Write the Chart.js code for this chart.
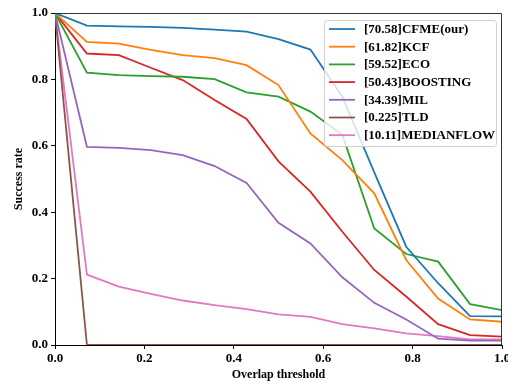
<!DOCTYPE html>
<html>
<head>
<meta charset="utf-8">
<script src="https://cdn.jsdelivr.net/npm/chart.js@4.4.1/dist/chart.umd.min.js"></script>
<style>
html,body{margin:0;padding:0;background:#fff;}
#wrap{width:508px;height:383px;position:relative;}
</style>
</head>
<body>
<div id="wrap"><canvas id="c" width="508" height="383"></canvas></div>
<script>
const thresholds = [0, 1/14, 2/14, 3/14, 4/14, 5/14, 6/14, 7/14, 8/14, 9/14, 10/14, 11/14, 12/14, 13/14, 1];
const seriesNames = ['[70.58]CFME(our)', '[61.82]KCF', '[59.52]ECO', '[50.43]BOOSTING', '[34.39]MIL', '[0.225]TLD', '[10.11]MEDIANFLOW'];
const cfme = [1.0, 0.962, 0.960, 0.958, 0.955, 0.950, 0.944, 0.921, 0.890, 0.748, 0.520, 0.296, 0.186, 0.087, 0.086];
const kcf = [1.0, 0.913, 0.908, 0.889, 0.873, 0.864, 0.843, 0.783, 0.637, 0.557, 0.457, 0.256, 0.140, 0.077, 0.070];
const eco = [1.0, 0.820, 0.813, 0.810, 0.808, 0.801, 0.761, 0.748, 0.703, 0.633, 0.351, 0.274, 0.251, 0.123, 0.105];
const boosting = [1.0, 0.878, 0.873, 0.835, 0.798, 0.738, 0.681, 0.553, 0.462, 0.341, 0.226, 0.146, 0.063, 0.030, 0.025];
const mil = [1.0, 0.597, 0.594, 0.587, 0.572, 0.539, 0.488, 0.368, 0.306, 0.204, 0.127, 0.077, 0.019, 0.013, 0.013];
const tld = [1.0, 0.0, 0.0, 0.0, 0.0, 0.0, 0.0, 0.0, 0.0, 0.0, 0.0, 0.0, 0.0, 0.0, 0.0];
const medianflow = [1.0, 0.212, 0.176, 0.154, 0.134, 0.120, 0.108, 0.092, 0.085, 0.063, 0.050, 0.035, 0.027, 0.017, 0.017];
const seriesValues = [cfme, kcf, eco, boosting, mil, tld, medianflow];
const seriesColors = ['#1f77b4', '#ff7f0e', '#2ca02c', '#d62728', '#9467bd', '#8c564b', '#e377c2'];
const xTickLabels = ['0.0', '0.2', '0.4', '0.6', '0.8', '1.0'];
const yTickLabels = ['0.0', '0.2', '0.4', '0.6', '0.8', '1.0'];

const FONT = "'Liberation Serif', 'Times New Roman', serif";

const datasets = seriesNames.map((name, i) => ({
  label: name,
  data: thresholds.map((x, j) => ({x: x, y: seriesValues[i][j]})),
  borderColor: seriesColors[i],
  backgroundColor: seriesColors[i],
  borderWidth: 1.8,
  pointRadius: 0,
  showLine: true,
  tension: 0,
  fill: false
}));

const framePlugin = {
  id: 'frame',
  afterDatasetsDraw(chart) {
    const a = chart.chartArea;
    const ctx = chart.ctx;
    ctx.save();
    ctx.strokeStyle = '#333';
    ctx.lineWidth = 1;
    ctx.beginPath();
    ctx.moveTo(a.left, a.top + 0.5);
    ctx.lineTo(a.right - 0.5, a.top + 0.5);
    ctx.lineTo(a.right - 0.5, a.bottom);
    ctx.stroke();
    ctx.restore();
  }
};

const legendPlugin = {
  id: 'customLegend',
  afterDraw(chart) {
    const ctx = chart.ctx;
    const x0 = 324, y0 = 20, w = 172, h = 126;
    ctx.save();
    ctx.fillStyle = 'rgba(255,255,255,0.8)';
    ctx.strokeStyle = '#d0d0d0';
    ctx.lineWidth = 1;
    ctx.beginPath();
    ctx.roundRect(x0 + 0.5, y0 + 0.5, w, h, 3);
    ctx.fill();
    ctx.stroke();
    ctx.font = 'bold 13px ' + FONT;
    ctx.textBaseline = 'middle';
    ctx.textAlign = 'left';
    chart.data.datasets.forEach((ds, i) => {
      const cy = 29 + i * 17.7;
      ctx.strokeStyle = ds.borderColor;
      ctx.lineWidth = 1.8;
      ctx.beginPath();
      ctx.moveTo(329, cy);
      ctx.lineTo(355, cy);
      ctx.stroke();
      ctx.fillStyle = '#000';
      ctx.fillText(ds.label, 364, cy + 0.5);
    });
    ctx.restore();
  }
};

new Chart(document.getElementById('c'), {
  type: 'scatter',
  data: { datasets },
  options: {
    responsive: false,
    animation: false,
    layout: { padding: { top: 13, right: 6, left: 0, bottom: 0 } },
    plugins: { legend: { display: false }, tooltip: { enabled: false } },
    scales: {
      x: {
        type: 'linear', min: 0, max: 1,
        afterFit(s) { s.height = 38; s.paddingLeft = 0; s.paddingRight = 0; },
        afterBuildTicks(s) { s.ticks = xTickLabels.map(v => ({value: parseFloat(v)})); },
        ticks: {
          color: '#000', padding: 2, maxRotation: 0, autoSkip: false,
          font: { family: FONT, size: 13, weight: 'bold' },
          callback: (v, i) => xTickLabels[i]
        },
        grid: { display: true, drawOnChartArea: false, drawTicks: true, tickLength: 4, color: '#000' },
        border: { display: true, color: '#000', width: 1 },
        title: { display: true, text: 'Overlap threshold', color: '#000', font: { family: FONT, size: 12, weight: 'bold' }, padding: { top: 0, bottom: 1 } }
      },
      y: {
        type: 'linear', min: 0, max: 1,
        afterFit(s) { s.width = 55; s.paddingTop = 0; s.paddingBottom = 0; },
        afterBuildTicks(s) { s.ticks = yTickLabels.map(v => ({value: parseFloat(v)})); },
        ticks: {
          color: '#000', padding: 3, autoSkip: false,
          font: { family: FONT, size: 13, weight: 'bold' },
          callback: (v, i) => yTickLabels[i]
        },
        grid: { display: true, drawOnChartArea: false, drawTicks: true, tickLength: 4, color: '#000' },
        border: { display: true, color: '#000', width: 1 },
        title: { display: true, text: 'Success rate', color: '#000', font: { family: FONT, size: 12, weight: 'bold' }, padding: { top: 12, bottom: 0 } }
      }
    }
  },
  plugins: [framePlugin, legendPlugin]
});
</script>
</body>
</html>
